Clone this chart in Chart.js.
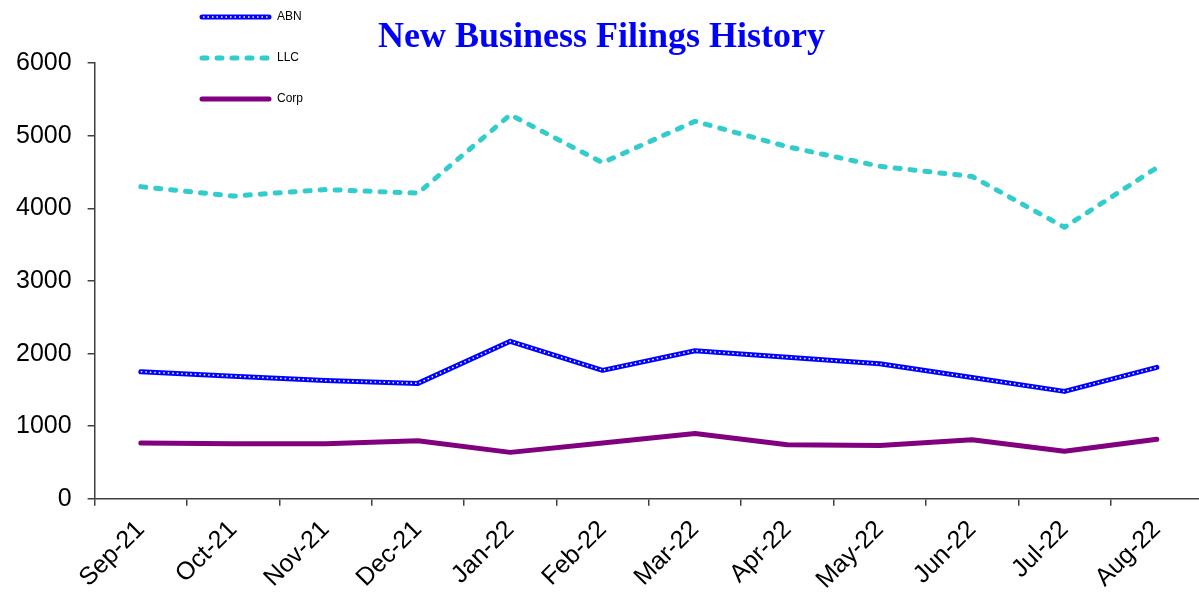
<!DOCTYPE html>
<html>
<head>
<meta charset="utf-8">
<title>New Business Filings History</title>
<script src="https://cdn.jsdelivr.net/npm/chart.js@4"></script>
<style>
  html, body { margin: 0; padding: 0; background: #fff; overflow: hidden; }
  .wrap { position: relative; width: 1210px; height: 605px; }
</style>
</head>
<body>
<div class="wrap"><canvas id="myChart"></canvas></div>
<script>
const months = ['Sep-21', 'Oct-21', 'Nov-21', 'Dec-21', 'Jan-22', 'Feb-22',
  'Mar-22', 'Apr-22', 'May-22', 'Jun-22', 'Jul-22', 'Aug-22'];
const abn = [1750, 1690, 1630, 1590, 2170, 1770, 2040, 1950, 1860, 1670, 1480, 1810];
const llc = [4300, 4170, 4260, 4210, 5290, 4630, 5200, 4850, 4580, 4440, 3740, 4560];
const corp = [770, 760, 760, 800, 640, 770, 900, 745, 735, 815, 655, 820];
const yTicks = [0, 1000, 2000, 3000, 4000, 5000, 6000];

const BLUE = '#0000FF';
const TEAL = '#33CCCC';
const PURPLE = '#800080';
const AXIS = '#404040';

// legend sits up top on the left, drawn by hand
const legendItems = [
  { label: 'ABN', color: BLUE, dash: [], dots: true, y: 17 },
  { label: 'LLC', color: TEAL, dash: [5, 10], dots: false, y: 58 },
  { label: 'Corp', color: PURPLE, dash: [], dots: false, y: 99 },
];

const legendPlugin = {
  id: 'sideLegend',
  afterDraw(chart) {
    const ctx = chart.ctx;
    ctx.save();
    legendItems.forEach((item) => {
      ctx.beginPath();
      ctx.lineWidth = 5;
      ctx.strokeStyle = item.color;
      ctx.lineCap = 'round';
      ctx.setLineDash(item.dash);
      ctx.moveTo(202, item.y);
      ctx.lineTo(269, item.y);
      ctx.stroke();
      if (item.dots) {
        ctx.beginPath();
        ctx.lineWidth = 1.5;
        ctx.lineCap = 'butt';
        ctx.strokeStyle = '#fff';
        ctx.setLineDash([1.5, 3]);
        ctx.moveTo(203, item.y);
        ctx.lineTo(268, item.y);
        ctx.stroke();
      }
      ctx.setLineDash([]);
      ctx.fillStyle = '#000';
      ctx.font = '12px Arial, "Liberation Sans", sans-serif';
      ctx.textBaseline = 'middle';
      ctx.fillText(item.label, 277, item.y);
    });
    ctx.restore();
  }
};

// first dataset is painted last, so the white dots go first to sit on the blue line
const data = {
  labels: months,
  datasets: [
    {
      label: 'ABN dots',
      data: abn,
      borderColor: '#fff',
      borderWidth: 1.5,
      borderDash: [1.5, 3],
      pointRadius: 0,
    },
    {
      label: 'ABN',
      data: abn,
      borderColor: BLUE,
      borderWidth: 5,
      borderJoinStyle: 'round',
      borderCapStyle: 'round',
      pointRadius: 0,
    },
    {
      label: 'LLC',
      data: llc,
      borderColor: TEAL,
      borderWidth: 5,
      borderDash: [5, 10],
      borderCapStyle: 'round',
      borderJoinStyle: 'round',
      pointRadius: 0,
    },
    {
      label: 'Corp',
      data: corp,
      borderColor: PURPLE,
      borderWidth: 5,
      borderJoinStyle: 'round',
      borderCapStyle: 'round',
      pointRadius: 0,
    },
  ]
};

const config = {
  type: 'line',
  data: data,
  options: {
    responsive: true,
    maintainAspectRatio: false,
    animation: false,
    layout: { padding: { left: 0, right: 7, top: 0, bottom: 1 } },
    plugins: {
      legend: { display: false },
      tooltip: { enabled: false },
      title: {
        display: true,
        text: 'New Business Filings History',
        color: BLUE,
        font: { family: '"Times New Roman", "Liberation Serif", serif', size: 36, weight: 'bold' },
        padding: { top: 16, bottom: 4 },
      },
    },
    scales: {
      x: {
        offset: true,
        border: { color: AXIS, width: 1.5 },
        grid: { display: true, drawOnChartArea: false, tickLength: 7, color: AXIS, lineWidth: 1.5, offset: true },
        ticks: {
          color: '#000',
          font: { family: 'Arial, "Liberation Sans", sans-serif', size: 25 },
          minRotation: 45,
          maxRotation: 45,
          padding: 9,
        },
      },
      y: {
        min: 0,
        max: 6000,
        afterBuildTicks: (axis) => { axis.ticks = yTicks.map((v) => ({ value: v })); },
        border: { color: AXIS, width: 1.5 },
        grid: { display: true, drawOnChartArea: false, tickLength: 7, color: AXIS, lineWidth: 1.5 },
        ticks: {
          color: '#000',
          font: { family: 'Arial, "Liberation Sans", sans-serif', size: 25 },
          padding: 16,
          callback: (v) => String(v),
        },
      },
    },
  },
  plugins: [legendPlugin],
};

const myChart = new Chart('myChart', config);
</script>
</body>
</html>
